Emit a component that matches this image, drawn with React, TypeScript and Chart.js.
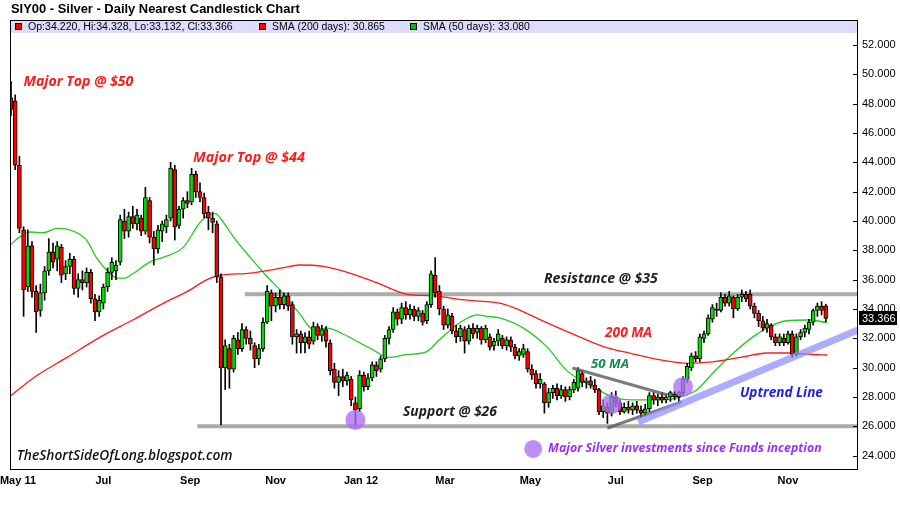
import { useEffect, useRef } from "react";
import { Chart, registerables } from "chart.js";

Chart.register(...registerables);

// ---------- DATA ----------
// Time axis: calendar days counted from 1 May 2011. One candle per 3-day period.
const START_DAY = -5;
const CANDLE_STEP = 3;

const opens = [
  48.4, 48.2, 43.8, 39.4, 35.5, 38.3, 35.2, 33.9, 35.1, 36.6,
  37.9, 37.4, 38.2, 36.4, 36.9, 37.4, 35.4, 36.0, 35.8, 36.5,
  34.7, 33.8, 34.4, 35.5, 36.5, 36.6, 37.2, 40.0, 39.3, 40.3,
  39.8, 40.2, 39.3, 41.4, 38.9, 38.1, 39.3, 39.6, 40.2, 43.5,
  39.7, 40.8, 41.4, 41.3, 43.2, 42.0, 41.6, 40.6, 40.2, 39.8,
  36.2, 30.0, 31.3, 29.9, 31.9, 31.3, 32.6, 32.0, 31.5, 30.6,
  31.3, 33.1, 35.1, 34.2, 34.8, 34.3, 34.9, 34.3, 32.1, 32.3,
  31.7, 32.1, 31.8, 32.8, 32.2, 32.6, 31.7, 29.9, 29.0, 29.4,
  29.1, 29.2, 27.6, 27.2, 29.5, 28.7, 29.3, 30.2, 29.9, 30.6,
  32.0, 32.6, 33.8, 33.3, 34.1, 33.6, 34.0, 33.5, 33.7, 33.2,
  34.3, 36.3, 35.2, 34.0, 32.9, 33.5, 32.5, 32.1, 32.6, 31.8,
  32.7, 32.4, 32.7, 31.9, 32.1, 31.5, 31.8, 32.0, 31.5, 31.9,
  31.4, 30.8, 30.9, 31.1, 29.9, 29.6, 28.9, 28.9, 27.6, 28.3,
  28.6, 28.1, 28.5, 28.0, 28.5, 28.6, 29.6, 29.0, 29.1, 28.8,
  28.5, 27.0, 27.3, 26.9, 28.0, 27.6, 27.0, 27.3, 27.1, 27.4,
  27.1, 26.9, 27.2, 28.1, 27.8, 28.0, 27.8, 28.0, 28.2, 28.0,
  28.3, 29.2, 30.0, 30.8, 30.6, 32.0, 32.3, 33.3, 34.0, 33.9,
  34.8, 34.4, 34.8, 34.0, 34.8, 35.0, 35.0, 34.2, 33.7, 33.2,
  32.7, 32.9, 32.1, 31.7, 32.0, 31.7, 32.3, 30.9, 32.1, 32.4,
  32.6, 33.1, 33.9, 34.2, 34.22,
];
const highs = [
  49.5, 48.6, 44.4, 39.6, 39.4, 38.6, 35.6, 35.7, 36.9, 38.8,
  38.5, 38.6, 38.4, 37.3, 37.8, 37.6, 36.4, 36.6, 36.8, 36.7,
  35.0, 34.9, 35.7, 36.8, 37.5, 37.3, 40.4, 40.8, 40.6, 41.0,
  40.8, 40.4, 42.3, 41.6, 39.3, 39.7, 40.0, 40.4, 44.0, 43.8,
  41.0, 41.6, 42.0, 43.6, 43.4, 42.6, 41.9, 41.0, 40.6, 40.0,
  36.4, 31.9, 31.6, 32.2, 32.4, 33.0, 32.8, 32.5, 31.7, 31.6,
  33.4, 35.6, 35.3, 35.1, 35.3, 35.1, 35.1, 34.5, 32.6, 32.5,
  32.4, 32.5, 33.1, 33.0, 32.9, 32.8, 31.9, 30.3, 29.8, 29.9,
  29.7, 29.4, 28.0, 29.8, 29.7, 29.6, 30.4, 30.4, 30.8, 32.2,
  32.8, 34.1, 34.0, 34.4, 34.5, 34.3, 34.2, 34.1, 33.9, 34.5,
  36.6, 37.5, 35.6, 34.2, 34.0, 33.7, 32.9, 32.9, 32.8, 32.9,
  33.0, 32.9, 32.8, 32.9, 32.3, 32.0, 32.6, 32.2, 32.1, 32.1,
  31.6, 31.3, 31.6, 31.3, 30.2, 29.8, 29.6, 29.0, 28.6, 28.8,
  28.9, 28.8, 28.7, 28.7, 29.2, 30.0, 29.8, 29.3, 29.4, 29.2,
  28.6, 27.8, 27.6, 28.3, 28.4, 27.8, 27.6, 27.7, 27.6, 27.7,
  27.4, 27.5, 28.3, 28.3, 28.2, 28.3, 28.2, 28.4, 28.4, 28.4,
  29.4, 30.3, 31.0, 31.1, 32.3, 32.5, 33.6, 34.3, 34.4, 35.1,
  35.0, 35.2, 34.9, 35.0, 35.3, 35.2, 35.3, 34.4, 33.9, 33.5,
  33.3, 33.0, 32.3, 32.3, 32.3, 32.5, 32.5, 32.3, 32.6, 32.9,
  33.3, 34.0, 34.4, 34.5, 34.33,
];
const lows = [
  47.2, 43.5, 39.2, 33.5, 35.2, 34.8, 32.4, 33.5, 34.6, 36.3,
  36.8, 36.6, 35.8, 36.0, 36.4, 35.0, 34.8, 35.3, 35.5, 34.4,
  33.2, 33.5, 34.0, 35.2, 36.0, 36.0, 37.0, 38.8, 38.9, 39.5,
  39.4, 39.0, 39.1, 38.5, 37.0, 37.8, 38.6, 39.2, 40.0, 38.7,
  39.5, 40.2, 40.9, 41.1, 41.6, 41.3, 40.2, 39.4, 39.2, 35.8,
  26.1, 28.5, 28.6, 29.7, 30.9, 31.1, 31.6, 31.2, 30.0, 30.2,
  31.1, 33.0, 33.2, 33.8, 34.0, 34.0, 33.9, 31.6, 31.0, 31.0,
  31.0, 31.3, 31.6, 31.9, 31.8, 31.4, 29.5, 28.6, 28.1, 28.7,
  28.8, 27.4, 26.1, 27.0, 28.4, 28.5, 29.1, 29.4, 29.7, 30.4,
  31.6, 32.4, 32.9, 33.0, 33.3, 33.3, 33.2, 33.2, 32.9, 33.0,
  34.1, 34.8, 33.6, 32.6, 32.7, 32.3, 31.7, 31.8, 31.0, 31.6,
  32.0, 32.0, 31.6, 31.7, 31.2, 31.2, 31.5, 31.3, 31.2, 31.1,
  30.6, 30.5, 30.7, 29.7, 29.2, 28.6, 28.6, 26.9, 27.3, 27.9,
  27.8, 27.9, 27.7, 27.8, 28.3, 28.4, 28.7, 28.6, 28.6, 28.3,
  26.8, 26.6, 26.2, 26.7, 27.3, 26.8, 26.9, 26.9, 26.8, 26.9,
  26.6, 26.7, 27.0, 27.5, 27.4, 27.6, 27.6, 27.7, 27.8, 27.7,
  28.1, 29.0, 29.8, 30.4, 30.4, 31.7, 32.2, 33.1, 33.5, 33.8,
  34.2, 34.2, 33.4, 33.9, 34.5, 34.5, 34.0, 33.4, 32.8, 32.5,
  32.4, 31.9, 31.5, 31.5, 31.5, 31.6, 30.7, 30.8, 31.9, 32.1,
  32.3, 32.9, 33.5, 33.6, 33.13,
];
const closes = [
  47.6, 43.8, 39.5, 35.3, 38.3, 35.2, 33.8, 35.1, 36.6, 37.9,
  37.2, 38.3, 36.3, 36.9, 37.4, 35.4, 36.0, 35.8, 36.5, 34.7,
  33.8, 34.6, 35.5, 36.5, 37.2, 37.0, 40.1, 39.3, 40.3, 39.8,
  40.4, 39.3, 41.6, 38.9, 38.1, 39.4, 39.8, 40.1, 43.6, 39.6,
  40.8, 41.4, 41.2, 43.2, 42.0, 41.6, 40.5, 40.2, 39.9, 36.2,
  30.0, 31.5, 29.9, 32.0, 31.3, 32.6, 32.0, 31.6, 30.6, 31.3,
  33.1, 35.2, 34.2, 34.8, 34.3, 34.9, 34.2, 32.1, 32.3, 31.7,
  32.1, 31.6, 32.8, 32.2, 32.6, 31.8, 29.8, 29.0, 29.4, 29.1,
  29.5, 27.8, 27.1, 29.5, 28.7, 29.3, 30.2, 29.8, 30.6, 32.0,
  32.6, 33.8, 33.3, 34.1, 33.6, 34.0, 33.5, 33.9, 33.1, 34.3,
  36.4, 35.1, 34.0, 32.9, 33.6, 32.5, 32.1, 32.7, 31.8, 32.7,
  32.3, 32.7, 31.9, 32.7, 31.4, 31.8, 32.3, 31.5, 31.9, 31.4,
  30.8, 31.1, 31.3, 29.9, 29.5, 28.9, 29.2, 27.6, 28.3, 28.6,
  28.1, 28.5, 28.0, 28.5, 29.0, 29.8, 29.0, 29.1, 28.8, 28.5,
  27.0, 27.4, 26.9, 28.0, 27.6, 27.0, 27.3, 27.1, 27.4, 27.1,
  26.9, 27.2, 28.1, 27.8, 28.0, 27.8, 28.0, 28.3, 28.0, 28.3,
  29.2, 30.1, 30.8, 30.6, 32.1, 32.3, 33.4, 34.1, 33.9, 34.8,
  34.4, 34.9, 34.0, 34.8, 35.0, 34.7, 34.2, 33.7, 33.2, 32.7,
  33.0, 32.1, 31.7, 32.1, 31.7, 32.3, 30.9, 32.1, 32.4, 32.7,
  33.1, 33.9, 34.2, 33.9, 33.366,
];

const sma200Days = [-5, 11, 35, 59, 82, 106, 121, 135, 142, 166, 189, 201, 218, 237, 256, 278, 296, 321, 344, 354, 378, 401, 421, 437, 461, 478, 496, 516, 535, 551, 568, 578];
const sma200Values = [28.1, 29.3, 30.7, 32.1, 33.25, 34.5, 35.2, 36.0, 36.25, 36.45, 36.8, 37.0, 36.9, 36.45, 35.8, 35.0, 34.9, 34.6, 34.4, 34.1, 33.05, 32.1, 31.35, 31.0, 30.5, 30.3, 30.4, 30.7, 31.0, 31.0, 30.9, 30.865];

const sma50Days = [-5, 1, 9, 18, 28, 37, 44, 49, 56, 66, 71, 76, 82, 94, 106, 118, 130, 136, 141, 146, 154, 166, 178, 189, 201, 211, 221, 230, 244, 254, 264, 278, 292, 301, 316, 328, 335, 344, 361, 378, 392, 409, 425, 442, 459, 473, 485, 496, 511, 525, 537, 549, 564, 578];
const sma50Values = [38.4, 38.9, 39.25, 39.2, 39.5, 39.4, 39.1, 38.7, 37.5, 36.4, 36.1, 36.1, 36.4, 37.2, 37.6, 38.2, 39.9, 40.4, 40.5, 40.0, 38.9, 37.5, 36.2, 35.1, 33.7, 32.6, 32.7, 32.4, 31.7, 31.2, 30.7, 30.9, 31.1, 31.9, 33.1, 33.6, 33.5, 33.4, 32.7, 31.4, 29.8, 28.8, 28.0, 27.8, 27.8, 28.0, 28.5, 29.6, 31.0, 32.1, 32.8, 33.2, 33.25, 33.08];

const monthTickDays = [0, 61, 123, 184, 245, 305, 366, 427, 489, 550];
const monthTickLabels = ["May 11", "Jul", "Sep", "Nov", "Jan 12", "Mar", "May", "Jul", "Sep", "Nov"];
const priceTicks = [24, 26, 28, 30, 32, 34, 36, 38, 40, 42, 44, 46, 48, 50, 52];

const resistanceDays = [162, 600];
const resistancePrices = [35, 35];
const supportDays = [128, 600];
const supportPrices = [26, 26];
const wedgeUpperDays = [396, 464];
const wedgeUpperPrices = [29.98, 28.14];
const wedgeLowerDays = [421, 474];
const wedgeLowerPrices = [25.89, 27.67];
const uptrendDays = [443, 600];
const uptrendPrices = [26.3, 32.57];
const investmentDays = [241, 424, 475, 368];
const investmentPrices = [26.44, 27.53, 28.69, 24.46];

const lastOHLC = ["34.220", "34.328", "33.132", "33.366"];
const lastSma200 = "30.865";
const lastSma50 = "33.080";
const lastPrice = 33.366;

const TITLE = "SIY00 - Silver - Daily Nearest Candlestick Chart";

// annotation texts (data coords of left edge / vertical centre)
const annotations = [
  { text: "Major Top @ $50", day: 3.9, price: 49.48, width: 110, color: "#ff1a1a", weight: "bold" },
  { text: "Major Top @ $44", day: 125, price: 44.3, width: 112, color: "#ff1a1a", weight: "bold" },
  { text: "Resistance @ $35", day: 375.7, price: 36.05, width: 114, color: "#1e1e1e", weight: "bold" },
  { text: "200 MA", day: 419.3, price: 32.37, width: 47, color: "#ff1a1a", weight: "bold" },
  { text: "50 MA", day: 409.3, price: 30.25, width: 38, color: "#168a4c", weight: "bold" },
  { text: "Support @ $26", day: 275, price: 26.98, width: 94, color: "#1e1e1e", weight: "bold" },
  { text: "Uptrend Line", day: 515.7, price: 28.28, width: 83, color: "#2020e8", weight: "bold" },
  { text: "TheShortSideOfLong.blogspot.com", day: -0.9, price: 23.98, width: 216, color: "#111111", weight: "600" },
  { text: "Major Silver investments since Funds inception", day: 378.6, price: 24.46, width: 274, color: "#9a30ff", weight: "bold" },
];

const GREEN = "#00dd00";
const RED = "#ff0000";

function drawFitText(ctx: CanvasRenderingContext2D, text: string, x: number, y: number, width: number, font: (s: number) => string, color: string) {
  ctx.font = font(20);
  const w = ctx.measureText(text).width;
  const size = (20 * width) / w;
  ctx.font = font(size);
  ctx.fillStyle = color;
  ctx.textAlign = "left";
  ctx.textBaseline = "middle";
  ctx.fillText(text, x, y);
}

const overlayPlugin = {
  id: "overlay",
  beforeDraw(chart: any) {
    const ctx = chart.ctx as CanvasRenderingContext2D;
    ctx.save();
    ctx.fillStyle = "#ffffff";
    ctx.fillRect(0, 0, chart.width, chart.height);
    ctx.restore();
  },
  afterDatasetsDraw(chart: any) {
    const ctx = chart.ctx as CanvasRenderingContext2D;
    const xs = chart.scales.x;
    const ys = chart.scales.y;
    ctx.save();
    for (const a of annotations) {
      drawFitText(
        ctx,
        a.text,
        xs.getPixelForValue(a.day),
        ys.getPixelForValue(a.price),
        a.width,
        (s) => `italic ${a.weight} ${s}px "Open Sans", "DejaVu Sans", sans-serif`,
        a.color
      );
    }
    ctx.restore();
  },
  afterDraw(chart: any) {
    const ctx = chart.ctx as CanvasRenderingContext2D;
    const area = chart.chartArea;
    const ys = chart.scales.y;
    ctx.save();
    // title
    drawFitText(ctx, TITLE, 11, 9.5, 289, (s) => `bold ${s}px "Liberation Sans", Arial, sans-serif`, "#000");
    // legend bar
    ctx.fillStyle = "#dcdcff";
    ctx.fillRect(area.left + 1, area.top + 1, area.right - area.left - 2, 12);
    const sq = (x: number, c: string) => {
      ctx.fillStyle = c;
      ctx.fillRect(x, 23, 7, 7);
      ctx.strokeStyle = "#000";
      ctx.lineWidth = 1;
      ctx.strokeRect(x + 0.5, 23.5, 6, 6);
    };
    const legFont = (s: number) => `${s}px "Liberation Sans", Arial, sans-serif`;
    sq(15, RED);
    drawFitText(ctx, `Op:${lastOHLC[0]}, Hi:${lastOHLC[1]}, Lo:${lastOHLC[2]}, Cl:${lastOHLC[3]}`, 28, 27, 205, legFont, "#000");
    sq(259, RED);
    drawFitText(ctx, `SMA (200 days): ${lastSma200}`, 272, 27, 113, legFont, "#000");
    sq(410, "#00c000");
    drawFitText(ctx, `SMA (50 days): ${lastSma50}`, 423, 27, 107, legFont, "#000");
    // frame
    ctx.strokeStyle = "#000";
    ctx.lineWidth = 1;
    ctx.strokeRect(area.left + 0.5, area.top + 0.5, area.right - area.left - 1, area.bottom - area.top - 1);
    // y tick marks (inside)
    ctx.beginPath();
    for (const v of priceTicks) {
      const y = Math.round(ys.getPixelForValue(v)) + 0.5;
      ctx.moveTo(area.right - 5, y);
      ctx.lineTo(area.right, y);
    }
    ctx.stroke();
    // last price tag
    const py = ys.getPixelForValue(lastPrice);
    ctx.fillStyle = "#000";
    ctx.fillRect(area.right + 1, Math.round(py) - 7, 38, 14);
    ctx.fillStyle = "#fff";
    ctx.font = `11px "Liberation Sans", Arial, sans-serif`;
    ctx.textAlign = "left";
    ctx.textBaseline = "middle";
    ctx.fillText(lastPrice.toFixed(3), area.right + 4, Math.round(py) + 0.5);
    ctx.restore();
  },
};

export default function App() {
  const ref = useRef<HTMLCanvasElement>(null);
  useEffect(() => {
    const canvas = ref.current;
    if (!canvas) return;
    const n = closes.length;
    const days = closes.map((_, i) => START_DAY + i * CANDLE_STEP);
    const wickData = days.map((d, i) => ({ x: d, y: [lows[i], highs[i]] }));
    const bodyData = days.map((d, i) => ({ x: d, y: [opens[i], closes[i]] }));
    const bodyColors = days.map((_, i) => (closes[i] >= opens[i] ? GREEN : RED));
    const pts = (xs: number[], ys: number[]) => xs.map((x, i) => ({ x, y: ys[i] }));
    void n;

    const chart = new Chart(canvas, {
      type: "bar",
      data: {
        datasets: [
          {
            type: "line",
            data: pts(resistanceDays, resistancePrices),
            borderColor: "#aaaaaa",
            borderWidth: 4,
            pointRadius: 0,
            order: 20,
          } as any,
          {
            type: "line",
            data: pts(supportDays, supportPrices),
            borderColor: "#aaaaaa",
            borderWidth: 4,
            pointRadius: 0,
            order: 20,
          } as any,
          {
            type: "line",
            data: pts(sma200Days, sma200Values),
            borderColor: "#ff1a1a",
            borderWidth: 1.3,
            pointRadius: 0,
            cubicInterpolationMode: "monotone",
            order: 15,
          } as any,
          {
            type: "line",
            data: pts(sma50Days, sma50Values),
            borderColor: "#22cc22",
            borderWidth: 1.3,
            pointRadius: 0,
            cubicInterpolationMode: "monotone",
            order: 15,
          } as any,
          {
            type: "bar",
            data: wickData,
            backgroundColor: "#000000",
            barThickness: 1,
            grouped: false,
            order: 10,
          } as any,
          {
            type: "bar",
            data: bodyData,
            backgroundColor: bodyColors,
            borderColor: "#000000",
            borderWidth: 1,
            borderSkipped: false,
            barThickness: 4,
            grouped: false,
            order: 9,
          } as any,
          {
            type: "scatter",
            data: pts(investmentDays, investmentPrices),
            backgroundColor: "rgba(172,110,250,0.78)",
            borderWidth: 0,
            pointRadius: [10, 10, 10, 9],
            order: 5,
          } as any,
          {
            type: "line",
            data: pts(wedgeUpperDays, wedgeUpperPrices),
            borderColor: "rgba(90,90,90,0.8)",
            borderWidth: 3,
            pointRadius: 0,
            order: 3,
          } as any,
          {
            type: "line",
            data: pts(wedgeLowerDays, wedgeLowerPrices),
            borderColor: "rgba(90,90,90,0.8)",
            borderWidth: 3,
            pointRadius: 0,
            order: 3,
          } as any,
          {
            type: "line",
            data: pts(uptrendDays, uptrendPrices),
            borderColor: "rgba(140,140,255,0.72)",
            borderWidth: 7,
            pointRadius: 0,
            order: 1,
          } as any,
        ],
      },
      options: {
        responsive: false,
        animation: false,
        events: [],
        layout: { padding: { left: 10, top: 20, right: 0, bottom: 0 } },
        plugins: { legend: { display: false }, tooltip: { enabled: false }, title: { display: false } },
        scales: {
          x: {
            type: "linear",
            min: -5.714,
            max: 600,
            offset: false,
            grid: { display: false, drawTicks: false },
            border: { display: false },
            afterBuildTicks: (s: any) => {
              s.ticks = monthTickDays.map((v) => ({ value: v }));
            },
            afterFit: (s: any) => {
              s.height = 41;
              s.paddingLeft = 0;
              s.paddingRight = 0;
            },
            ticks: {
              autoSkip: false,
              maxRotation: 0,
              padding: 4,
              color: "#000",
              font: { family: '"Liberation Sans", Arial, sans-serif', size: 11, weight: "bold" },
              callback: (v: any) => {
                const k = monthTickDays.indexOf(Number(v));
                return k >= 0 ? monthTickLabels[k] : "";
              },
            },
          },
          y: {
            type: "linear",
            position: "right",
            min: 23.024,
            max: 53.704,
            grid: { display: false, drawTicks: false },
            border: { display: false },
            afterBuildTicks: (s: any) => {
              s.ticks = priceTicks.map((v) => ({ value: v }));
            },
            afterFit: (s: any) => {
              s.width = 42;
              s.paddingTop = 0;
              s.paddingBottom = 0;
            },
            ticks: {
              padding: 4,
              color: "#000",
              font: { family: '"Liberation Sans", Arial, sans-serif', size: 11 },
              callback: (v: any) => Number(v).toFixed(3),
            },
          },
        },
      } as any,
      plugins: [overlayPlugin],
    });
    return () => chart.destroy();
  }, []);

  return (
    <div style={{ position: "absolute", left: 0, top: 0, width: 900, height: 511, background: "#fff" }}>
      <canvas ref={ref} width={900} height={511} style={{ display: "block", width: 900, height: 511 }} />
    </div>
  );
}
